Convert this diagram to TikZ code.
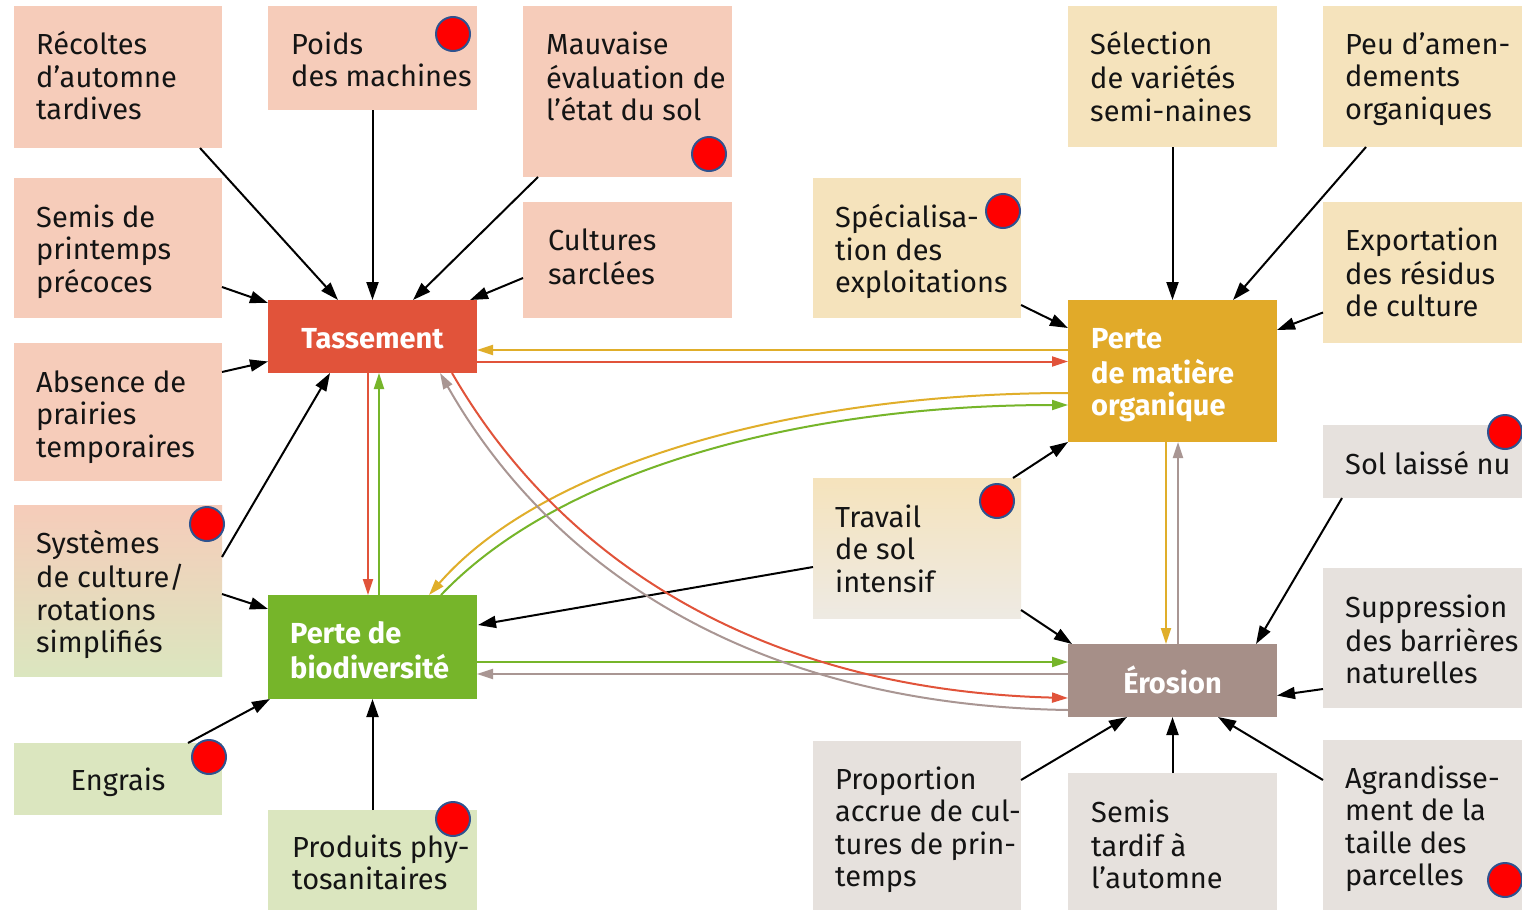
\documentclass[tikz,border=0pt]{standalone}
\usepackage{fontspec}
\setmainfont{Fira Sans}
\usetikzlibrary{arrows.meta,calc,fit}
\definecolor{pinkb}{HTML}{F6CCBA}
\definecolor{tanb}{HTML}{F5E3BC}
\definecolor{grayb}{HTML}{E6E1DD}
\definecolor{greenl}{HTML}{DBE6BF}
\definecolor{travb}{HTML}{EEEAE3}
\definecolor{tassc}{HTML}{E1533A}
\definecolor{bioc}{HTML}{76B52A}
\definecolor{moc}{HTML}{E1AA29}
\definecolor{eroc}{HTML}{A68F88}
\definecolor{goldl}{HTML}{E0AE2A}
\definecolor{grayl}{HTML}{A99693}
\definecolor{dotblue}{HTML}{2F528F}
\newcommand\TT[4]{\node[txt] (#1) at ({#2},{#3-22.75}) {\strut #4};}
\newcommand\TB[4]{\node[txtb] (#1) at ({#2},{#3-22.75}) {\strut #4};}
\begin{document}
\begin{tikzpicture}[x=1pt,y=-1pt,
  bx/.style={inner sep=0pt, outer sep=0pt, draw=none},
  txt/.style={font=\fontsize{29}{32.5}\selectfont, align=left, inner sep=0pt, anchor=north west, text={black!92}},
  txtb/.style={txt, font=\fontsize{29}{32.5}\selectfont\bfseries, text=white},
  arr/.style={line width=2pt, black, -{Triangle[length=18pt,width=12pt]}},
  carr/.style={line width=2pt, #1, -{Triangle[length=16pt,width=10pt]}},
  dot/.style={circle, minimum size=34pt, inner sep=0pt, fill=red, draw=dotblue, line width=2pt}]
\useasboundingbox (0,0) rectangle (1522,910);
\fill[white] (0,0) rectangle (1522,910);
% boxes
\node[bx, fill=pinkb, fit={(14,6) (222,148)}] (recoltes) {};
\node[bx, fill=pinkb, fit={(14,178) (222,318)}] (semisp) {};
\node[bx, fill=pinkb, fit={(14,343) (222,481)}] (absence) {};
\node[bx, top color=pinkb, bottom color=greenl, fit={(14,505) (222,676)}] (systemes) {};
\node[bx, fill=greenl, fit={(14,743) (222,815)}] (engrais) {};
\node[bx, fill=pinkb, fit={(268,6) (477,110)}] (poids) {};
\node[bx, fill=tassc, fit={(268,300) (477,373)}] (tass) {};
\node[bx, fill=bioc, fit={(268,595) (477,699)}] (biodiv) {};
\node[bx, fill=greenl, fit={(268,810) (477,910)}] (produits) {};
\node[bx, fill=pinkb, fit={(523,6) (732,177)}] (mauvaise) {};
\node[bx, fill=pinkb, fit={(523,202) (732,318)}] (cultures) {};
\node[bx, fill=tanb, fit={(813,178) (1021,318)}] (special) {};
\node[bx, top color=tanb, bottom color=travb, fit={(813,478) (1021,618)}] (travail) {};
\node[bx, fill=grayb, fit={(813,741) (1021,910)}] (proportion) {};
\node[bx, fill=tanb, fit={(1068,6) (1277,147)}] (selection) {};
\node[bx, fill=moc, fit={(1068,300) (1277,442)}] (mo) {};
\node[bx, fill=eroc, fit={(1068,644) (1277,717)}] (erosion) {};
\node[bx, fill=grayb, fit={(1068,773) (1277,910)}] (semist) {};
\node[bx, fill=tanb, fit={(1323,6) (1522,147)}] (peu) {};
\node[bx, fill=tanb, fit={(1323,202) (1522,343)}] (export) {};
\node[bx, fill=grayb, fit={(1323,425) (1522,498)}] (solnu) {};
\node[bx, fill=grayb, fit={(1323,568) (1522,708)}] (suppr) {};
\node[bx, fill=grayb, fit={(1323,740) (1522,910)}] (agrand) {};
% texts
\TT{recoltes-t}{36}{54}{Récoltes\\d’automne\\tardives}
\TT{poids-t}{291}{54}{Poids\\des machines}
\TT{mauvaise-t}{546}{54}{Mauvaise\\évaluation de\\l’état du sol}
\TT{cultures-t}{548}{250}{Cultures\\sarclées}
\TT{semisp-t}{36}{227}{Semis de\\printemps\\précoces}
\TT{absence-t}{36}{392}{Absence de\\prairies\\temporaires}
\TT{systemes-t}{36}{553}{Systèmes\\de culture/\\rotations\\simplifiés}
\node[txt, anchor=base] (engrais-t) at (118,790) {Engrais};
\TT{produits-t}{292}{857}{Produits phy-\\tosanitaires}
\TT{special-t}{835}{227}{Spécialisa-\\tion des\\exploitations}
\TT{travail-t}{835}{527}{Travail\\de sol\\intensif}
\TT{proportion-t}{835}{789}{Proportion\\accrue de cul-\\tures de prin-\\temps}
\TT{selection-t}{1090}{54}{Sélection\\de variétés\\semi-naines}
\TT{semist-t}{1091}{822}{Semis\\tardif à\\l’automne}
\TT{peu-t}{1345}{54}{Peu d’amen-\\dements\\organiques}
\TT{export-t}{1345}{250}{Exportation\\des résidus\\de culture}
\node[txt, anchor=base west] (solnu-t) at (1345,474) {Sol laissé nu};
\TT{suppr-t}{1345}{617}{Suppression\\des barrières\\naturelles}
\TT{agrand-t}{1345}{788}{Agrandisse-\\ment de la\\taille des\\parcelles}
\node[txtb, anchor=base] (tass-t) at (372.5,348) {Tassement};
\TB{biodiv-t}{290}{643}{Perte de\\biodiversité}
\TB{mo-t}{1091}{348}{Perte\\de matière\\organique}
\node[txtb, anchor=base] (erosion-t) at (1172.5,693) {Érosion};
% black arrows
\draw[arr] ($(recoltes.south west)+(186,0)$) -- ($(tass.north west)+(70,0)$);
\draw[arr] (poids.south) -- (tass.north);
\draw[arr] ($(mauvaise.south west)+(15,0)$) -- ($(tass.north west)+(145,0)$);
\draw[arr] ($(cultures.west)+(0,18)$) -- ($(tass.north east)+(-7,0)$);
\draw[arr] ($(semisp.east)+(0,39)$) -- ($(tass.north west)+(0,3)$);
\draw[arr] ($(absence.north east)+(0,29)$) -- ($(tass.west)+(0,25)$);
\draw[arr] ($(systemes.north east)+(0,52)$) -- ($(tass.south west)+(62,0)$);
\draw[arr] ($(systemes.east)+(0,3.5)$) -- ($(biodiv.north west)+(0,14)$);
\draw[arr] ($(engrais.north east)+(-34,0)$) -- ($(biodiv.south west)+(2,0)$);
\draw[arr] (produits.north) -- (biodiv.south);
\draw[arr] ($(travail.west)+(0,19)$) -- ($(biodiv.east)+(1,-22)$);
\draw[arr] ($(special.east)+(0,57)$) -- ($(mo.north west)+(0,28)$);
\draw[arr] ($(travail.north east)+(-8,0)$) -- (mo.south west);
\draw[arr] ($(travail.south east)+(0,-8)$) -- ($(erosion.north west)+(4,0)$);
\draw[arr] (selection.south) -- (mo.north);
\draw[arr] ($(peu.south west)+(43,0)$) -- ($(mo.north east)+(-44,0)$);
\draw[arr] ($(export.west)+(0,40)$) -- ($(mo.north east)+(0,30)$);
\draw[arr] ($(solnu.south west)+(19,0)$) -- ($(erosion.north east)+(-21,0)$);
\draw[arr] ($(suppr.west)+(0,51)$) -- ($(erosion.east)+(0,15)$);
\draw[arr] ($(agrand.north west)+(0,40)$) -- ($(erosion.south east)+(-59,0)$);
\draw[arr] (semist.north) -- (erosion.south);
\draw[arr] ($(proportion.north east)+(0,39)$) -- ($(erosion.south west)+(59,0)$);
% coloured arrows
\draw[carr=goldl] ($(mo.north west)+(0,50)$) -- ($(tass.east)+(0,13.5)$);
\draw[carr=tassc] ($(tass.east)+(0,25)$) -- ($(mo.north west)+(0,61.5)$);
\draw[carr=goldl] ($(mo.west)+(0,22)$) .. controls +(-268,0) and +(116,-133) .. ($(biodiv.north east)+(-48,0)$);
\draw[carr=bioc] ($(biodiv.north east)+(-36,0)$) .. controls +(119,-125) and +(-268,0) .. ($(mo.west)+(0,34)$);
\draw[carr=tassc] ($(tass.south)+(-4.5,0)$) -- ($(biodiv.north)+(-4.5,0)$);
\draw[carr=bioc] ($(biodiv.north)+(6.5,0)$) -- ($(tass.south)+(6.5,0)$);
\draw[carr=bioc] ($(biodiv.east)+(0,15)$) -- ($(erosion.west)+(0,-18.5)$);
\draw[carr=grayl] ($(erosion.west)+(0,-6.5)$) -- ($(biodiv.east)+(0,27)$);
\draw[carr=tassc] ($(tass.south east)+(-25,0)$) .. controls +(108,187) and +(-308,-8) .. ($(erosion.west)+(0,17.5)$);
\draw[carr=grayl] ($(erosion.south west)+(0,-7)$) .. controls +(-328,-5) and +(105,185) .. ($(tass.south east)+(-37,0)$);
\draw[carr=goldl] ($(mo.south)+(-6.5,0)$) -- ($(erosion.north)+(-6.5,0)$);
\draw[carr=grayl] ($(erosion.north)+(5.5,0)$) -- ($(mo.south)+(5.5,0)$);
% dots
\node[dot] (dot1) at (453,34) {};
\node[dot] (dot2) at (709,154) {};
\node[dot] (dot3) at (1003,211) {};
\node[dot] (dot4) at (207,524) {};
\node[dot] (dot5) at (997,501) {};
\node[dot] (dot6) at (1505,432) {};
\node[dot] (dot7) at (1505,880) {};
\node[dot] (dot8) at (209,757) {};
\node[dot] (dot9) at (453,819) {};
\end{tikzpicture}
\end{document}
